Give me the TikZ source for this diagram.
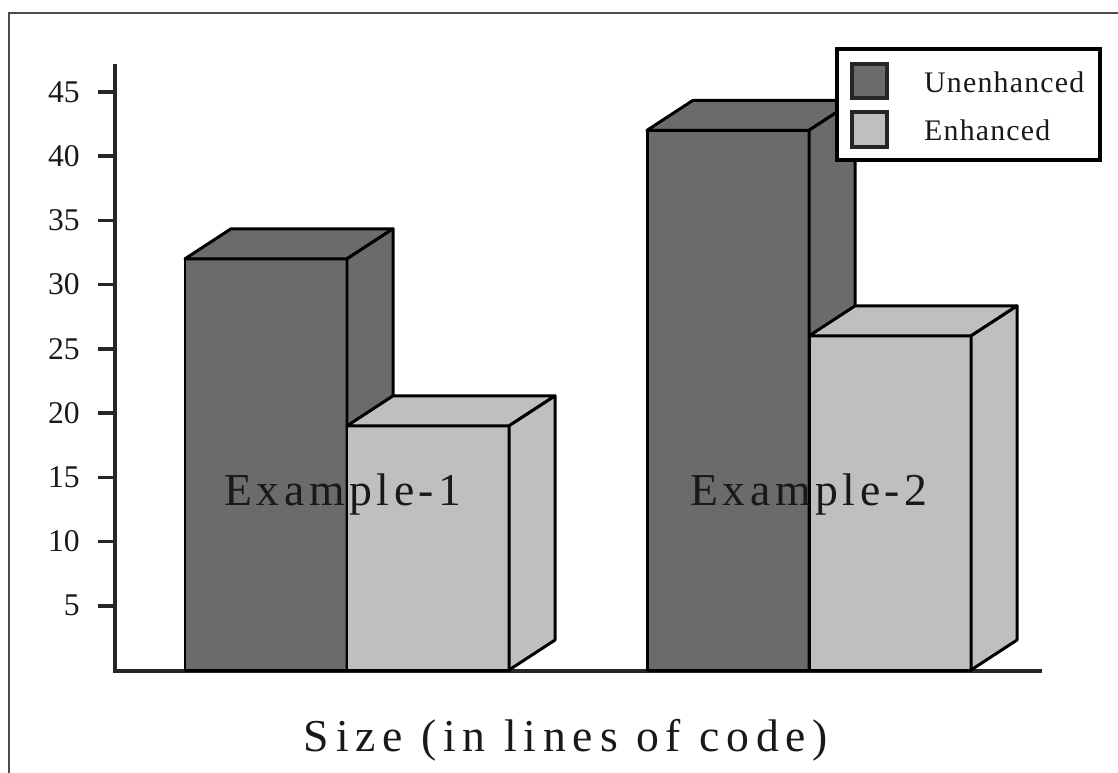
\documentclass[tikz,border=0pt]{standalone}
\usepackage{fontspec}
\setmainfont{Liberation Serif}
\newfontfamily\widefont[LetterSpace=10]{Liberation Serif}
\newfontfamily\widerfont[LetterSpace=15]{Liberation Serif}
\newfontfamily\legfont[LetterSpace=4]{Liberation Serif}
\usepackage{tikz}
\tikzset{
  barface/.style={draw=black, line width=1.7pt, line join=round},
  unenh/.style={barface, fill=black!58},
  enh/.style={barface, fill=black!25},
  axisline/.style={line width=2pt, draw=black!85},
  ticklbl/.style={anchor=east, font=\fontsize{18}{21}\selectfont, text=black!90},
  barlbl/.style={anchor=base, font=\fontsize{26}{30}\selectfont\widefont, text=black!90},
  leglbl/.style={anchor=base west, font=\fontsize{17}{20}\selectfont\legfont, text=black!90},
  swatch/.style={line width=1.9pt, draw=black!85},
}

\begin{document}
\begin{tikzpicture}[x=0.02cm, y=-0.02cm]
  \useasboundingbox (0,0) rectangle (1118,772);

  % outer frame (runs off the page on the right and bottom)
  \draw[line width=1.2pt, black!70] (9,790) |- (1140,13);

  % axes
  \draw[axisline] (115,64) -- (115,671) -- (1042,671);
  \foreach \v in {5,10,...,45} {
    \pgfmathsetmacro\ty{670-\v*12.85}
    \draw[axisline] (98,\ty) -- (115,\ty);
    \node[ticklbl] (tick\v) at (86,\ty) {\v};
  }

  % 3-D bars: left edge / value / style, back to front
  \foreach \x/\v/\s in {185/32/unenh, 347/19/enh, 647/42/unenh, 809/26/enh} {
    \pgfmathsetmacro\ytop{670-\v*12.85}
    \path[\s] (\x,670) rectangle (\x+162,\ytop);
    \path[\s] (\x,\ytop) -- (\x+46,\ytop-30) -- (\x+208,\ytop-30)
      -- (\x+162,\ytop) -- cycle;
    \path[\s] (\x+162,\ytop) -- (\x+208,\ytop-30) -- (\x+208,640)
      -- (\x+162,670) -- cycle;
  }

  % group labels
  \node[barlbl] (ex1) at (343,505) {Example-1};
  \node[barlbl] (ex2) at (809,505) {Example-2};

  % axis title
  \node[anchor=base, font=\fontsize{26}{30}\selectfont\widerfont, text=black!90]
    (xtitle) at (566,751) {Size (in lines of code)};

  % legend
  \draw[line width=1.8pt, fill=white] (837,49) rectangle (1100,160);
  \draw[swatch, fill=black!58] (852,64) rectangle (887,98);
  \draw[swatch, fill=black!25] (852,112) rectangle (887,147);
  \node[leglbl] (leg1) at (918,92) {Unenhanced};
  \node[leglbl] (leg2) at (918,140) {Enhanced};
\end{tikzpicture}
\end{document}
